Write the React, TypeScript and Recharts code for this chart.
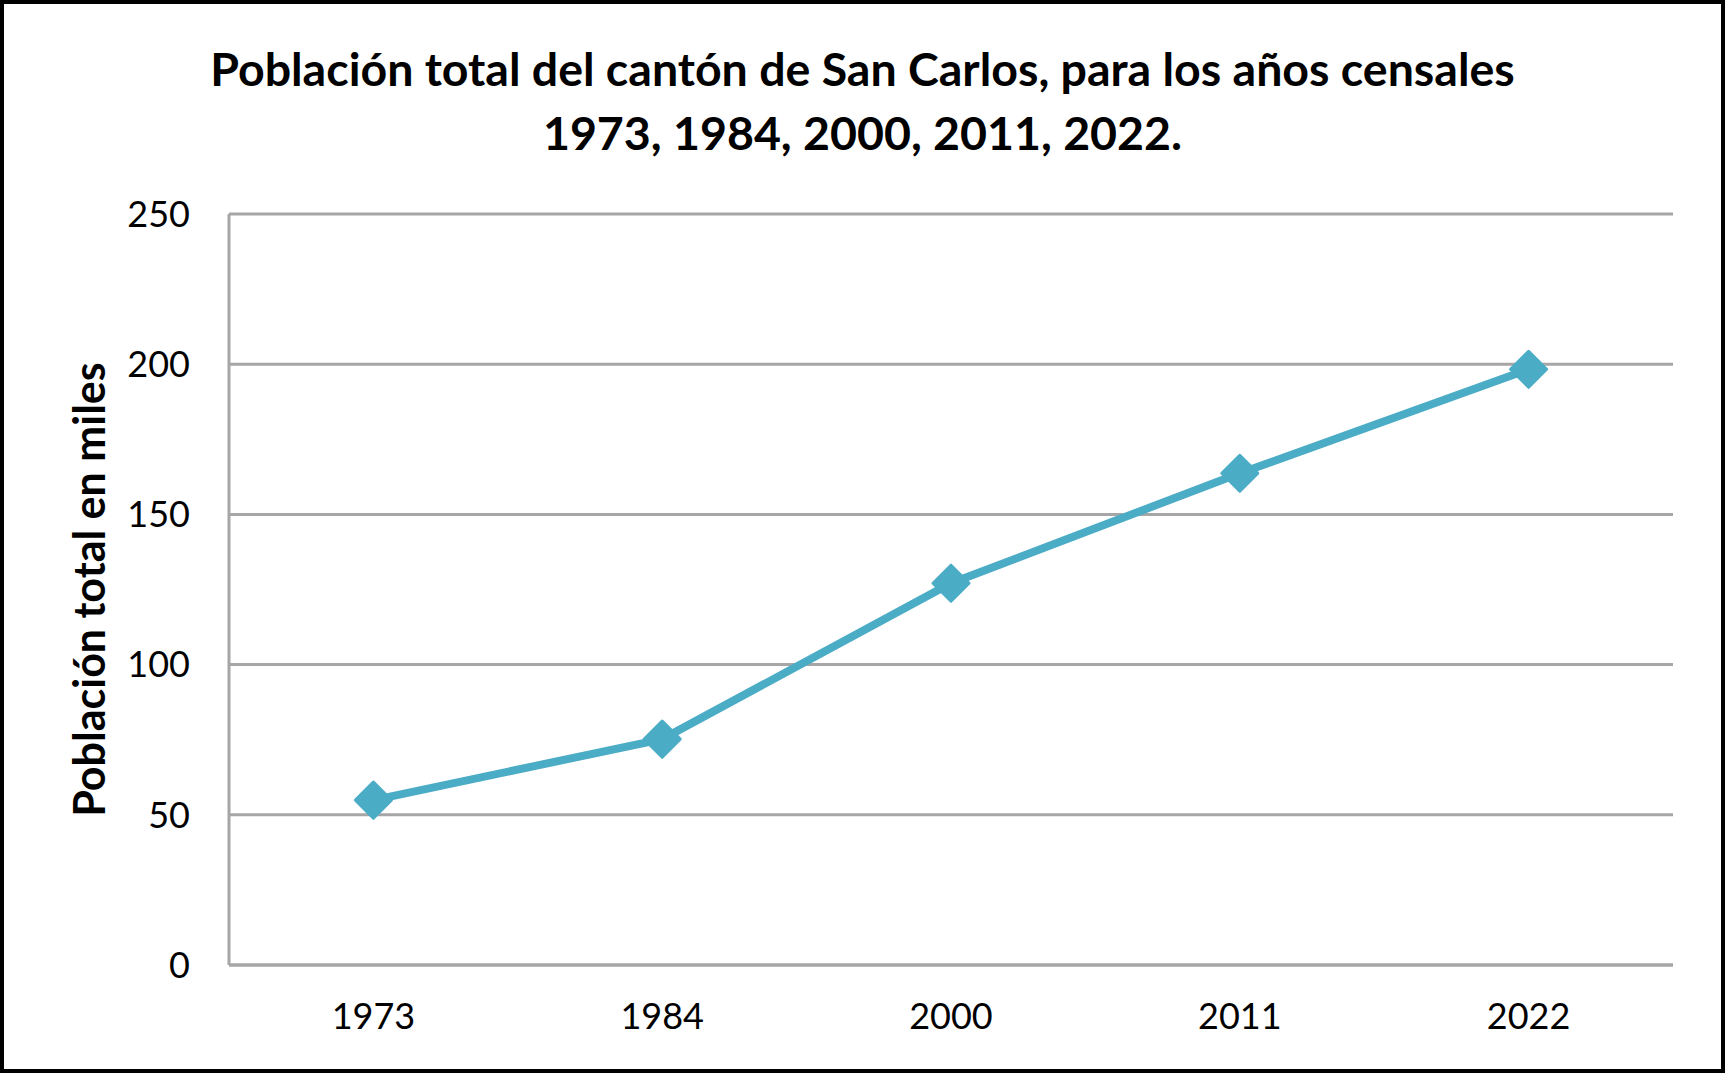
// Población total del cantón de San Carlos — census years line chart.
// One aqua series with diamond markers over horizontal gray gridlines.

import { CartesianGrid, Line, LineChart, XAxis, YAxis } from 'recharts';

const YEARS = ['1973', '1984', '2000', '2011', '2022'];
const POPULATION_THOUSANDS = [54.9, 75.2, 127.1, 163.7, 198.3];
const Y_TICKS = [0, 50, 100, 150, 200, 250];

const TITLE_LINES = [
  'Población total del cantón de San Carlos, para los años censales',
  '1973, 1984, 2000, 2011, 2022.',
];
const Y_LABEL = 'Población total en miles';

const COLORS = {
  line: '#4BACC6',
  grid: '#A6A6A6',
  text: '#000000',
};

const FONT = 'Lato, "Open Sans", sans-serif';

const data = YEARS.map((year, i) => ({ year, value: POPULATION_THOUSANDS[i] }));

function Diamond(props: any) {
  const { cx, cy, index } = props;
  if (cx == null || cy == null) return null;
  const r = 18;
  return (
    <path
      key={`diamond-${index}`}
      d={`M${cx},${cy - r}L${cx + r},${cy}L${cx},${cy + r}L${cx - r},${cy}Z`}
      fill={COLORS.line}
      stroke={COLORS.line}
      strokeWidth={3}
      strokeLinejoin="round"
    />
  );
}

export default function App() {
  return (
    <div
      style={{
        position: 'absolute',
        left: 0,
        top: 0,
        width: 1725,
        height: 1073,
        background: '#fff',
        fontFamily: FONT,
      }}
    >
      <div
        style={{
          position: 'absolute',
          left: 0,
          top: 36,
          width: 1725,
          textAlign: 'center',
          fontWeight: 700,
          fontSize: 46.5,
          lineHeight: '64px',
          color: COLORS.text,
        }}
      >
        {TITLE_LINES.map((t) => (
          <div key={t}>{t}</div>
        ))}
      </div>
      <LineChart
        width={1725}
        height={1073}
        data={data}
        margin={{ top: 214, right: 52, bottom: 8, left: 69 }}
        style={{ position: 'absolute', left: 0, top: 0 }}
      >
        <CartesianGrid stroke={COLORS.grid} strokeWidth={3} vertical={false} />
        <XAxis
          dataKey="year"
          scale="band"
          height={100}
          stroke={COLORS.grid}
          strokeWidth={3}
          tickLine={false}
          tickSize={0}
          tickMargin={38}
          tick={{ fill: COLORS.text, fontSize: 36, fontFamily: FONT }}
        />
        <YAxis
          width={160}
          domain={[0, 250]}
          ticks={Y_TICKS}
          interval={0}
          stroke={COLORS.grid}
          strokeWidth={3}
          tickLine={false}
          tickSize={0}
          tickMargin={39}
          tick={{ fill: COLORS.text, fontSize: 36, fontFamily: FONT }}
          label={{
            value: Y_LABEL,
            angle: -90,
            position: 'insideLeft',
            offset: 21,
            style: {
              textAnchor: 'middle',
              fontWeight: 700,
              fontSize: 43,
              fontFamily: FONT,
              fill: COLORS.text,
            },
          }}
        />
        <Line
          type="linear"
          dataKey="value"
          stroke={COLORS.line}
          strokeWidth={8}
          dot={Diamond}
          activeDot={false}
          isAnimationActive={false}
        />
      </LineChart>
      <div
        style={{
          position: 'absolute',
          inset: 0,
          border: '4px solid #000',
          boxSizing: 'border-box',
          pointerEvents: 'none',
        }}
      />
    </div>
  );
}
